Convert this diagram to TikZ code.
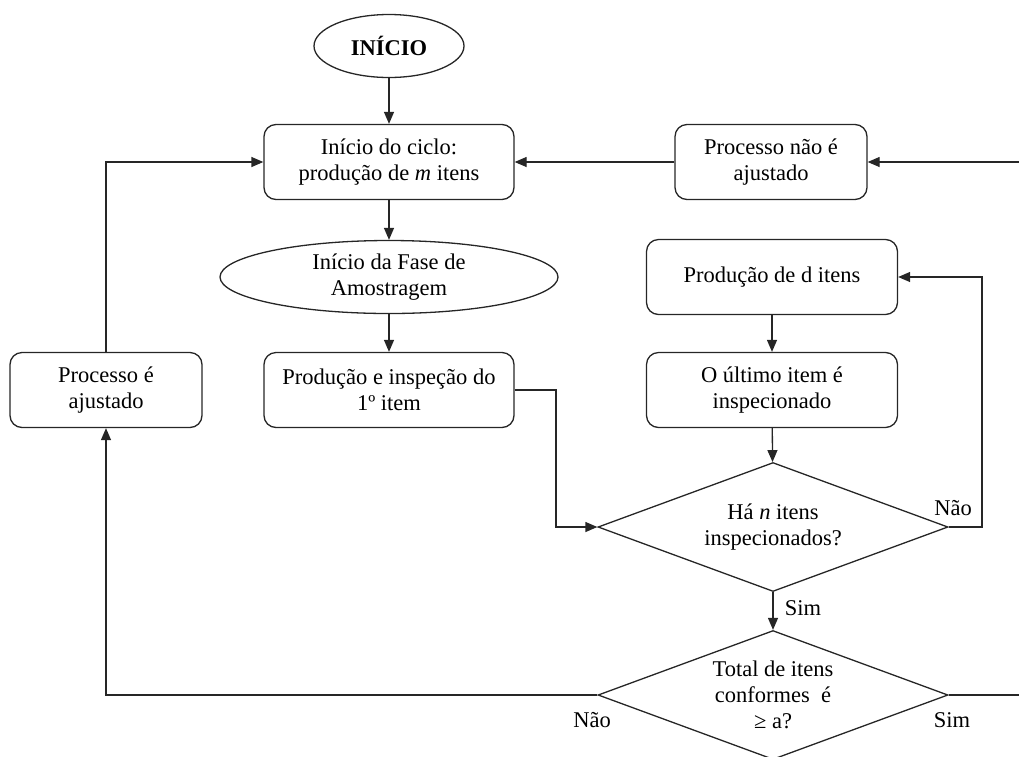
\documentclass[tikz,border=0pt]{standalone}
\usepackage{fontspec}
\setmainfont{Liberation Serif}
\usetikzlibrary{shapes.geometric,arrows.meta}

\tikzset{
  base/.style={draw=black!85, line width=1.3pt, align=center, inner sep=0pt,
               font=\fontsize{22.5}{26}\selectfont},
  procbox/.style={base, rectangle, rounded corners=12pt,
                  minimum width=#1, minimum height=75pt},
  oval/.style={base, ellipse},
  decision/.style={base, diamond, aspect=2.71, inner ysep=-14pt,
                   minimum width=350pt, minimum height=129pt},
  flow/.style={draw=black!85, line width=1.3pt, -{Triangle[length=12pt,width=10pt]}},
  lbl/.style={font=\fontsize{22.5}{26}\selectfont, inner sep=0pt}
}

\begin{document}
\begin{tikzpicture}[x=1pt,y=-1pt]
\useasboundingbox (0,0) rectangle (1019,756);
\clip (0,0) rectangle (1019,756);

% start and main column
\node[oval, minimum width=150pt, minimum height=63pt] (inicio) at (389,46) {\textbf{INÍCIO}};
\node[procbox=250pt] (ciclo) at (389,162) {Início do ciclo:\\produção de \textit{m} itens};
\node[oval, minimum width=338pt, minimum height=73pt] (fase) at (389,277) {Início da Fase de\\Amostragem};
\node[procbox=250pt] (prim) at (389,390) {Produção e inspeção do\\1º item};

% adjustment boxes
\node[procbox=192pt] (ajust) at (106,390) {Processo é\\ajustado};
\node[procbox=192pt] (naoaj) at (771,162) {Processo não é\\ajustado};

% sampling loop
\node[procbox=251pt] (prodd) at (772,277) {Produção de d itens};
\node[procbox=251pt] (ultimo) at (772,390) {O último item é\\inspecionado};
\node[decision] (dec1) at (773,527) {Há \textit{n} itens\\inspecionados?};
\node[decision] (dec2) at (773,695) {Total de itens\\conformes \ é\\≥ a?};

% route points
\coordinate (pa) at (556,390);
\coordinate (pb) at (556,527);
\coordinate (pc) at (982,527);
\coordinate (pd) at (982,277);
\coordinate (pe) at (106,695);
\coordinate (pf) at (106,162);
\coordinate (pg) at (1035,695);
\coordinate (ph) at (1035,162);

\draw[flow] (inicio) -- (ciclo);
\draw[flow] (ciclo) -- (fase);
\draw[flow] (fase) -- (prim);
\draw[flow] (prim.east) -- (pa) -- (pb) -- (dec1.west);
\draw[flow] (prodd) -- (ultimo);
\draw[flow] (ultimo) -- (dec1);
\draw[flow] (dec1.east) -- (pc) -- (pd) -- (prodd.east);
\draw[flow] (dec1) -- (dec2);
\draw[flow] (naoaj) -- (ciclo);
\draw[flow] (ajust.north) -- (pf) -- (ciclo.west);
\draw[flow] (dec2.west) -- (pe) -- (ajust.south);
\draw[flow] (dec2.east) -- (pg) -- (ph) -- (naoaj.east);

% branch labels
\node[lbl] (l1) at (953,508) {Não};
\node[lbl] (l2) at (803,608) {Sim};
\node[lbl] (l3) at (592,720) {Não};
\node[lbl] (l4) at (952,720) {Sim};
\end{tikzpicture}
\end{document}
